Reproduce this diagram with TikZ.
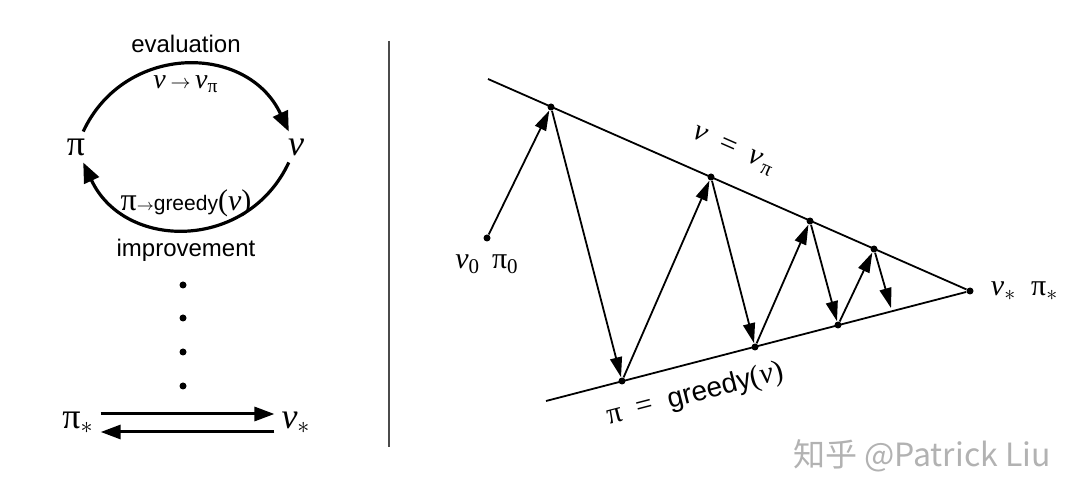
\documentclass[tikz,border=0pt]{standalone}
\usepackage{fontspec}
\setmainfont{Liberation Serif}
\setsansfont{Liberation Sans}
\newfontfamily\cjk{Noto Sans CJK SC}
\usetikzlibrary{positioning}
\usetikzlibrary{arrows.meta}
\definecolor{sepgray}{RGB}{75,75,75}
\definecolor{markgray}{RGB}{178,178,178}
\newcommand\fs[1]{\fontsize{#1}{#1}\selectfont}
\newcommand\vit{\textit{v}}
\newcommand\lowast{\textsubscript{$\ast$}}

\begin{document}
\begin{tikzpicture}[x=0.5pt, y=0.5pt,
    bigsym/.style={font=\fs{18}},
    caption/.style={font=\sffamily\fs{12}},
    slabel/.style={font=\fs{15}},
    loop/.style={line width=1.6pt, -{Triangle[length=10pt,width=8pt]}},
    swap/.style={line width=1.5pt, -{Triangle[length=10pt,width=7pt]}},
    edge/.style={line width=0.9pt},
    jump/.style={line width=0.9pt, -{Triangle[length=10pt,width=6pt]}},
    dot/.style={circle, fill, inner sep=0pt, minimum size=3.5pt}]
    \useasboundingbox (0,0) rectangle (1080,497);

    \node (pi) [bigsym] at (76,350) {π};
    \node (v) [bigsym] at (296,350) {\vit};
    \draw[loop] (pi) to[out=65, in=115, looseness=1.22] (v);
    \draw[loop] (v) to[out=-115, in=-65, looseness=1.22] (pi);
    \node (evl) [caption] at (186,453) {evaluation};
    \node (evm) [font=\fs{14}] at (186,413) {\vit\,{\fs{10}$\rightarrow$}\,\vit\textsubscript{π}};
    \node (imm) at (186,294) {{\fs{16}π}{\fs{8}$\rightarrow$}{\sffamily\fs{10.5}greedy}{\fs{15}(\vit)}};
    \node (iml) [caption] at (186,247) {improvement};
    \foreach \y in {212,179,145,111}
        \node[dot] (dot\y) at (183,\y) {};
    \node (pis) [bigsym] at (78,74) {π\lowast};
    \node (vs) [bigsym] at (296,74) {\vit\lowast};
    \draw[swap] ([yshift=4.5pt]pis.east) -- ([yshift=4.5pt]vs.west);
    \draw[swap] ([yshift=-4.5pt]vs.west) -- ([yshift=-4.5pt]pis.east);

    \draw[line width=1pt, sepgray] (389,456) -- (389,50);

    \coordinate (utop) at (488,418);
    \coordinate (lbot) at (546,96);
    \node[dot] (apex) at (970,206) {};
    \node[dot] (s0) at (487,259) {};
    \node[dot] (p0) at (551,390) {};
    \node[dot] (p1) at (711,320) {};
    \node[dot] (p2) at (810,276) {};
    \node[dot] (p3) at (874,248) {};
    \node[dot] (q1) at (622,116) {};
    \node[dot] (q2) at (755,150) {};
    \node[dot] (q3) at (838,172) {};
    \coordinate (q4) at (891,189);

    \draw[edge] (utop) -- (apex) node[pos=0.485, sloped, above=8pt, slabel] (vlab) {\vit\ \ =\ \ \vit\kern0.08em\textsubscript{π}};
    \draw[edge] (lbot) -- (apex) node[pos=0.337, sloped, below=5pt, slabel] (glab) {π\ \ =\ \ {\sffamily\fs{14}greedy}(\vit)};

    \draw[jump] (s0) -- (p0);
    \draw[jump] (p0) -- (q1);
    \draw[jump] (q1) -- (p1);
    \draw[jump] (p1) -- (q2);
    \draw[jump] (q2) -- (p2);
    \draw[jump] (p2) -- (q3);
    \draw[jump] (q3) -- (p3);
    \draw[jump] (p3) -- (q4);

    \node (lab0) [slabel, below=3pt of s0] {\vit\textsubscript{0}\hspace{0.4em}π\textsubscript{0}};
    \node (labs) [slabel, right=5pt of apex] {\vit\lowast\hspace{0.5em}π\lowast};

    \node (mark) [font=\cjk\fs{16}, text=markgray] at (922,41) {知乎 @Patrick Liu};
\end{tikzpicture}
\end{document}
